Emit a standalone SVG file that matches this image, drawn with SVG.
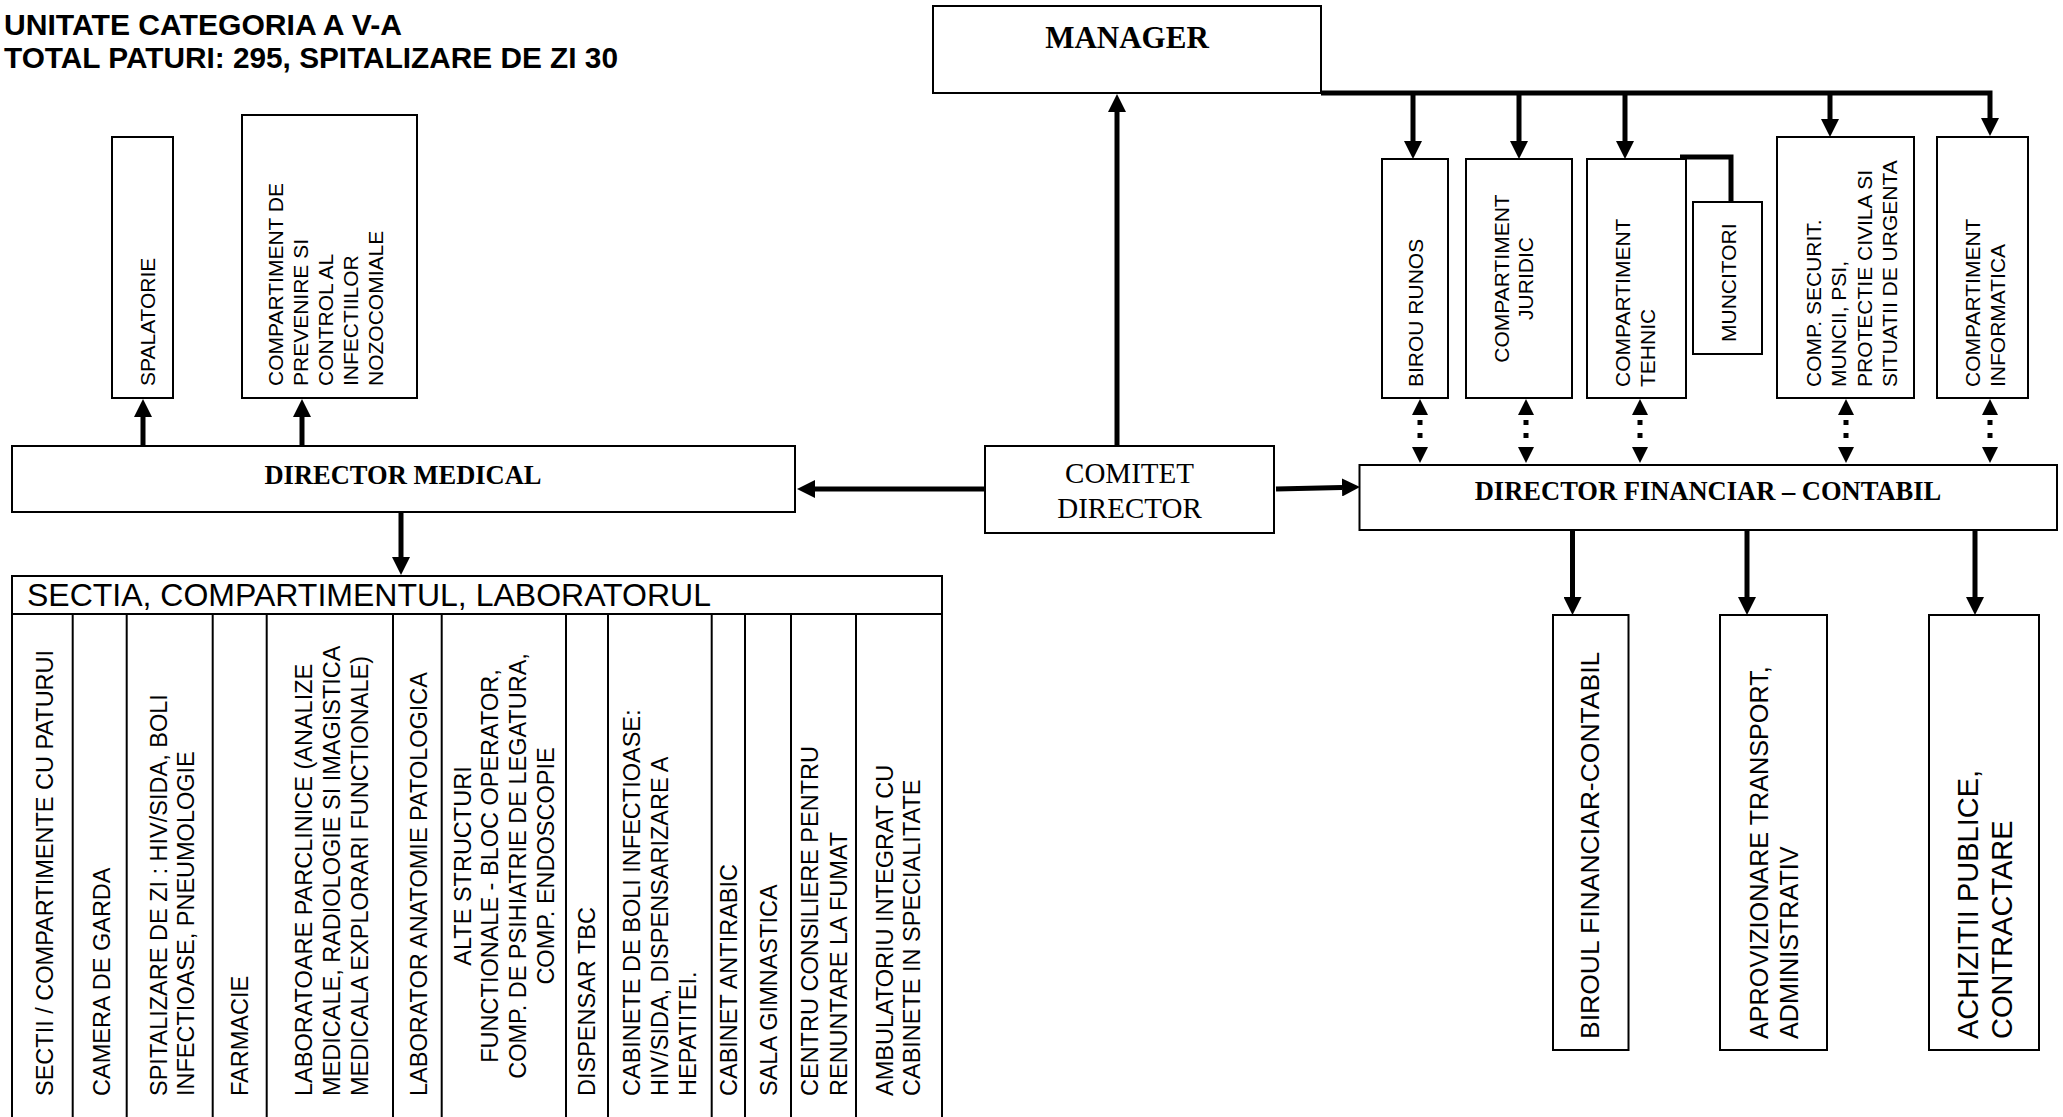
<svg xmlns="http://www.w3.org/2000/svg" width="2063" height="1117" viewBox="0 0 2063 1117">
<style>
.box{fill:#fff;stroke:#000;stroke-width:2}
.sans{font-family:"Liberation Sans",Arial,sans-serif;white-space:pre}
.serif{font-family:"Liberation Serif","Times New Roman",serif;white-space:pre}
.t21{font-size:21px}
.t235{font-size:23.5px}
.ln{stroke:#000;stroke-width:5;fill:none}
.dot{stroke:#000;stroke-width:5;fill:none;stroke-dasharray:5 8}
.cl{stroke:#000;stroke-width:2;fill:none}
</style>
<defs>
<marker id="a" viewBox="0 -9 18 18" refX="0" refY="0" markerWidth="18" markerHeight="18" markerUnits="userSpaceOnUse" orient="auto"><path d="M0,-9 L18,0 L0,9 z" fill="#000"/></marker>
<path id="hu" d="M0,0 L-8,16 L8,16 z" fill="#000"/>
<path id="hd" d="M0,0 L-8,-16 L8,-16 z" fill="#000"/>
</defs>

<g id="title" class="sans" font-weight="bold" font-size="29">
<text x="4" y="35" textLength="398" lengthAdjust="spacingAndGlyphs">UNITATE CATEGORIA A V-A</text>
<text x="4" y="68" textLength="614" lengthAdjust="spacingAndGlyphs">TOTAL PATURI: 295, SPITALIZARE DE ZI 30</text>
</g>

<g id="connectors">
<path class="ln" d="M1321,93 H1990 V118" marker-end="url(#a)"/>
<line class="ln" x1="1413" y1="93" x2="1413" y2="141" marker-end="url(#a)"/>
<line class="ln" x1="1519" y1="93" x2="1519" y2="141" marker-end="url(#a)"/>
<line class="ln" x1="1625" y1="93" x2="1625" y2="141" marker-end="url(#a)"/>
<line class="ln" x1="1830" y1="93" x2="1830" y2="119" marker-end="url(#a)"/>
<path class="ln" d="M1680,157 H1731 V202"/>
<line class="ln" x1="1117" y1="446" x2="1117" y2="112" marker-end="url(#a)"/>
<line class="ln" x1="985" y1="489" x2="815" y2="489" marker-end="url(#a)"/>
<line class="ln" x1="1276" y1="489" x2="1342" y2="487.5" marker-end="url(#a)"/>
<line class="ln" x1="143" y1="446" x2="143" y2="417" marker-end="url(#a)"/>
<line class="ln" x1="302" y1="446" x2="302" y2="417" marker-end="url(#a)"/>
<line class="ln" x1="401" y1="512" x2="401" y2="557" marker-end="url(#a)"/>
<line class="ln" x1="1572.5" y1="530" x2="1572.5" y2="597" marker-end="url(#a)"/>
<line class="ln" x1="1747" y1="530" x2="1747" y2="597" marker-end="url(#a)"/>
<line class="ln" x1="1975" y1="530" x2="1975" y2="597" marker-end="url(#a)"/>
<g id="dotted">
<path class="dot" d="M1420,420V440 M1526,420V440 M1640,420V440 M1846,420V440 M1990,420V440"/>
<use href="#hu" x="1420" y="399"/><use href="#hd" x="1420" y="463"/>
<use href="#hu" x="1526" y="399"/><use href="#hd" x="1526" y="463"/>
<use href="#hu" x="1640" y="399"/><use href="#hd" x="1640" y="463"/>
<use href="#hu" x="1846" y="399"/><use href="#hd" x="1846" y="463"/>
<use href="#hu" x="1990" y="399"/><use href="#hd" x="1990" y="463"/>
</g>
</g>

<g id="manager">
<rect class="box" x="933" y="6" width="388" height="87"/>
<text class="serif" x="1127" y="48" font-size="31" font-weight="bold" text-anchor="middle">MANAGER</text>
</g>

<g id="comitet">
<rect class="box" x="985" y="446" width="289" height="87"/>
<text class="serif" x="1129.5" y="483" font-size="29" text-anchor="middle">COMITET</text>
<text class="serif" x="1129.5" y="518" font-size="29" text-anchor="middle">DIRECTOR</text>
</g>

<g id="director-medical">
<rect class="box" x="12" y="446" width="783" height="66"/>
<text class="serif" x="403" y="484" font-size="26.5" font-weight="bold" text-anchor="middle">DIRECTOR MEDICAL</text>
</g>

<g id="director-financiar">
<rect class="box" x="1359.5" y="465" width="697.5" height="65"/>
<text class="serif" x="1708" y="500" font-size="26.5" font-weight="bold" text-anchor="middle">DIRECTOR FINANCIAR – CONTABIL</text>
</g>

<g id="spalatorie">
<rect class="box" x="112" y="137" width="61" height="261"/>
<text class="sans t21" transform="translate(155,386) rotate(-90)">SPALATORIE</text>
</g>

<g id="comp-prevenire">
<rect class="box" x="242" y="115" width="175" height="283"/>
<text class="sans t21" transform="translate(283,386) rotate(-90)"><tspan x="0" y="0">COMPARTIMENT DE</tspan><tspan x="0" y="25">PREVENIRE SI</tspan><tspan x="0" y="50">CONTROL AL</tspan><tspan x="0" y="75">INFECTIILOR</tspan><tspan x="0" y="100">NOZOCOMIALE</tspan></text>
</g>

<g id="birou-runos">
<rect class="box" x="1382" y="159" width="66" height="239"/>
<text class="sans t21" transform="translate(1423,387) rotate(-90)">BIROU RUNOS</text>
</g>

<g id="comp-juridic">
<rect class="box" x="1466" y="159" width="106" height="239"/>
<text class="sans t21" text-anchor="middle" transform="translate(1509,278.5) rotate(-90)"><tspan x="0" y="0">COMPARTIMENT</tspan><tspan x="0" y="23.5">JURIDIC</tspan></text>
</g>

<g id="comp-tehnic">
<rect class="box" x="1587" y="159" width="99" height="239"/>
<text class="sans t21" transform="translate(1630,387) rotate(-90)"><tspan x="0" y="0">COMPARTIMENT</tspan><tspan x="0" y="25">TEHNIC</tspan></text>
</g>

<g id="muncitori">
<rect class="box" x="1693" y="202" width="69" height="152"/>
<text class="sans t21" transform="translate(1736,342) rotate(-90)">MUNCITORI</text>
</g>

<g id="comp-securit">
<rect class="box" x="1777" y="137" width="137" height="261"/>
<text class="sans t21" transform="translate(1821,387) rotate(-90)"><tspan x="0" y="0">COMP. SECURIT.</tspan><tspan x="0" y="25.3">MUNCII, PSI,</tspan><tspan x="0" y="50.6">PROTECTIE CIVILA SI</tspan><tspan x="0" y="75.9">SITUATII DE URGENTA</tspan></text>
</g>

<g id="comp-informatica">
<rect class="box" x="1937" y="137" width="91" height="261"/>
<text class="sans t21" transform="translate(1980,387) rotate(-90)"><tspan x="0" y="0">COMPARTIMENT</tspan><tspan x="0" y="24.5">INFORMATICA</tspan></text>
</g>

<g id="biroul-financiar">
<rect class="box" x="1553" y="615" width="75.5" height="435"/>
<text class="sans" font-size="26.5" transform="translate(1599,1039) rotate(-90)">BIROUL FINANCIAR-CONTABIL</text>
</g>

<g id="aprovizionare">
<rect class="box" x="1720" y="615" width="107" height="435"/>
<text class="sans" font-size="25.2" transform="translate(1767.5,1039) rotate(-90)"><tspan x="0" y="0">APROVIZIONARE TRANSPORT,</tspan><tspan x="0" y="30.5">ADMINISTRATIV</tspan></text>
</g>

<g id="achizitii">
<rect class="box" x="1929" y="615" width="110" height="435"/>
<text class="sans" font-size="29" transform="translate(1977.5,1039) rotate(-90)"><tspan x="0" y="0">ACHIZITII PUBLICE,</tspan><tspan x="0" y="34">CONTRACTARE</tspan></text>
</g>

<g id="sectia">
<rect class="box" x="12" y="576" width="930" height="560"/>
<line class="cl" x1="12" y1="614" x2="942" y2="614"/>
<path class="cl" d="M72.7,614V1136 M126.7,614V1136 M212.7,614V1136 M266.7,614V1136 M393,614V1136 M441.7,614V1136 M566,614V1136 M608,614V1136 M711.7,614V1136 M745,614V1136 M791,614V1136 M856,614V1136"/>
<text class="sans" x="27" y="605.5" font-size="32">SECTIA, COMPARTIMENTUL, LABORATORUL</text>
<g class="sans t235">
<text transform="translate(53,1096) rotate(-90)">SECTII / COMPARTIMENTE CU PATURUI</text>
<text transform="translate(110,1096) rotate(-90)">CAMERA DE GARDA</text>
<text transform="translate(166.5,1096) rotate(-90)"><tspan x="0" y="0">SPITALIZARE  DE ZI : HIV/SIDA,  BOLI</tspan><tspan x="0" y="27">INFECTIOASE, PNEUMOLOGIE</tspan></text>
<text transform="translate(248,1096) rotate(-90)">FARMACIE</text>
<text transform="translate(311.5,1096) rotate(-90)"><tspan x="0" y="0">LABORATOARE PARCLINICE  (ANALIZE</tspan><tspan x="0" y="28.3">MEDICALE, RADIOLOGIE SI IMAGISTICA</tspan><tspan x="0" y="56.6">MEDICALA EXPLORARI FUNCTIONALE)</tspan></text>
<text transform="translate(426.5,1096) rotate(-90)">LABORATOR ANATOMIE PATOLOGICA</text>
<text text-anchor="middle" transform="translate(470.5,866) rotate(-90)"><tspan x="0" y="0">ALTE STRUCTURI</tspan><tspan x="0" y="27.7">FUNCTIONALE -  BLOC OPERATOR,</tspan><tspan x="0" y="55.4">COMP. DE PSIHIATRIE DE LEGATURA,</tspan><tspan x="0" y="83.1">COMP. ENDOSCOPIE</tspan></text>
<text transform="translate(595,1096) rotate(-90)">DISPENSAR TBC</text>
<text transform="translate(640,1096) rotate(-90)"><tspan x="0" y="0">CABINETE DE BOLI  INFECTIOASE:</tspan><tspan x="0" y="28">HIV/SIDA,  DISPENSARIZARE A</tspan><tspan x="0" y="56">HEPATITEI.</tspan></text>
<text transform="translate(736.5,1096) rotate(-90)">CABINET ANTIRABIC</text>
<text transform="translate(776.5,1096) rotate(-90)">SALA GIMNASTICA</text>
<text transform="translate(818,1096) rotate(-90)"><tspan x="0" y="0">CENTRU CONSILIERE PENTRU</tspan><tspan x="0" y="28.5">RENUNTARE LA FUMAT</tspan></text>
<text transform="translate(893,1096) rotate(-90)"><tspan x="0" y="0">AMBULATORIU  INTEGRAT CU</tspan><tspan x="0" y="27">CABINETE  IN SPECIALITATE</tspan></text>
</g>
</g>
</svg>
